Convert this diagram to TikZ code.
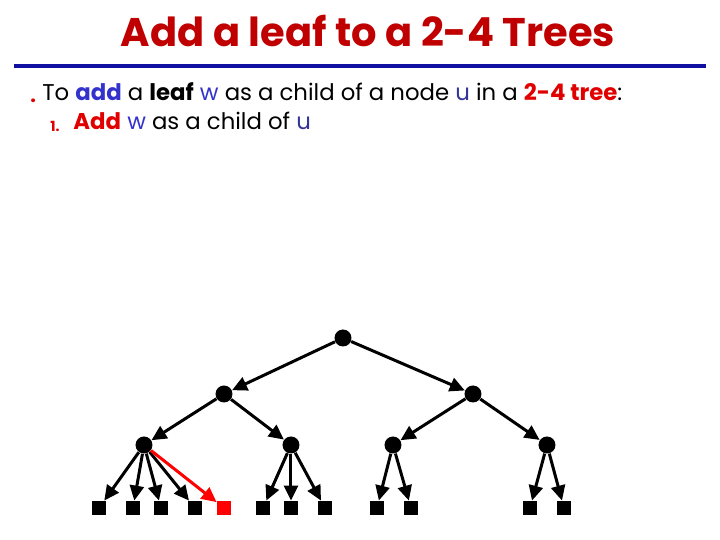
\documentclass[tikz,border=0pt]{standalone}
\usepackage{fontspec}
\setmainfont{Poppins}
\usetikzlibrary{arrows.meta}
\definecolor{titlered}{HTML}{C00000}
\definecolor{hired}{HTML}{E00000}
\definecolor{lineblue}{HTML}{1010A0}
\definecolor{wordblue}{HTML}{3333CC}
\definecolor{ublue}{HTML}{333399}
\tikzset{
  inode/.style={circle,fill=black,inner sep=0pt,minimum size=8.5pt},
  leafbox/.style={rectangle,fill=black,inner sep=0pt,minimum size=7pt},
  newleaf/.style={rectangle,fill=red,inner sep=0pt,minimum size=7pt},
  edge/.style={line width=1.5pt,-{Triangle[length=7.5pt,width=7pt]}},
  newedge/.style={edge,red},
  txt/.style={anchor=base west,inner sep=0pt,font=\fontsize{11.4}{13}\selectfont},
}
\begin{document}
\begin{tikzpicture}[x=0.5pt,y=-0.5pt]
\useasboundingbox (0,0) rectangle (720,540);
% title
\node[font=\fontsize{20}{24}\selectfont\bfseries,text=titlered,anchor=base,inner sep=0pt] (title) at (368,47) {Add a leaf to a 2-4 Trees};
\coordinate (l1) at (14,66);
\coordinate (l2) at (706,66);
\draw[lineblue,line width=2pt] (l1) -- (l2);
% bullet text
\node[txt,text=hired,font=\fontsize{10}{12}\selectfont\bfseries] (b0) at (30,103) {.};
\node[txt] (t1) at (42,101) {To \textcolor{wordblue}{\bfseries add} a \textbf{leaf} \textcolor{wordblue}{w} as a child of a node \textcolor{ublue}{u} in a \textcolor{hired}{\bfseries 2-4 tree}:};
\node[txt,text=hired,font=\fontsize{7}{8}\selectfont\bfseries] (n1) at (50,132) {1.};
\node[txt] (t2) at (73,130) {\textcolor{hired}{\bfseries Add} \textcolor{wordblue}{w} as a child of \textcolor{ublue}{u}};
% tree
\node[inode] (r) at (343,338) {};
\node[inode] (a) at (224,394) {};
\node[inode] (b) at (473,394) {};
\node[inode] (c) at (144,445) {};
\node[inode] (d) at (291,445) {};
\node[inode] (e) at (393,445) {};
\node[inode] (f) at (547,445) {};
\node[leafbox] (c1) at (99,508) {};
\node[leafbox] (c2) at (133,508) {};
\node[leafbox] (c3) at (161,508) {};
\node[leafbox] (c4) at (195,508) {};
\node[newleaf] (w) at (224,508) {};
\node[leafbox] (d1) at (263,508) {};
\node[leafbox] (d2) at (291,508) {};
\node[leafbox] (d3) at (325,508) {};
\node[leafbox] (e1) at (377,508) {};
\node[leafbox] (e2) at (411,508) {};
\node[leafbox] (f1) at (530,508) {};
\node[leafbox] (f2) at (564,508) {};
\draw[edge] (r) -- (a);
\draw[edge] (r) -- (b);
\draw[edge] (a) -- (c);
\draw[edge] (a) -- (d);
\draw[edge] (b) -- (e);
\draw[edge] (b) -- (f);
\foreach \x in {c1,c2,c3,c4} \draw[edge] (c) -- (\x);
\foreach \x in {d1,d2,d3} \draw[edge] (d) -- (\x);
\foreach \x in {e1,e2} \draw[edge] (e) -- (\x);
\foreach \x in {f1,f2} \draw[edge] (f) -- (\x);
\draw[newedge] (c) -- (w);
\end{tikzpicture}
\end{document}
